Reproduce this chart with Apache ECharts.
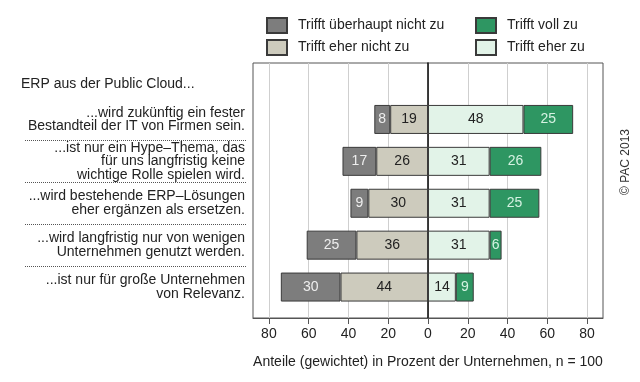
<!DOCTYPE html>
<html><head><meta charset="utf-8">
<script src="https://cdn.jsdelivr.net/npm/echarts@6/dist/echarts.min.js"></script>
<style>html,body{margin:0;padding:0;background:#fff}#c{width:640px;height:382px}</style>
</head><body><div id="c"></div>
<script>
const header = 'ERP aus der Public Cloud...';
const categories = [
  '...wird zukünftig ein fester\nBestandteil der IT von Firmen sein.',
  '...ist nur ein Hype\u2013Thema, das\nfür uns langfristig keine\nwichtige Rolle spielen wird.',
  '...wird bestehende ERP\u2013Lösungen\neher ergänzen als ersetzen.',
  '...wird langfristig nur von wenigen\nUnternehmen genutzt werden.',
  '...ist nur für große Unternehmen\nvon Relevanz.'
];
const nameUeberhauptNicht = 'Trifft überhaupt nicht zu';
const nameEherNicht = 'Trifft eher nicht zu';
const nameVoll = 'Trifft voll zu';
const nameEherZu = 'Trifft eher zu';
const ueberhauptNicht = [8, 17, 9, 25, 30];
const eherNicht = [19, 26, 30, 36, 44];
const eherZu = [48, 31, 31, 31, 14];
const vollZu = [25, 26, 25, 6, 9];
const xTicks = [-80, -60, -40, -20, 0, 20, 40, 60, 80];
const xTitle = 'Anteile (gewichtet) in Prozent der Unternehmen, n = 100';
const copyright = '\u00A9 PAC 2013';

const FONT = 'Liberation Sans, Arial, sans-serif';
const chart = echarts.init(document.getElementById('c'), null, {renderer: 'canvas'});

function barSeries(name, values, sign, color, labelColor) {
  return {
    name: name, type: 'bar', stack: 'total', xAxisIndex: 1, yAxisIndex: 1,
    barWidth: 29,
    data: values.map(v => sign * v),
    itemStyle: {color: color, borderColor: '#3a3a3a', borderWidth: 1},
    label: {
      show: true, position: 'inside', color: labelColor,
      fontFamily: FONT, fontSize: 14,
      formatter: p => Math.abs(p.value)
    },
    emphasis: {disabled: true}
  };
}

const legendCommon = {
  orient: 'vertical', itemWidth: 20, itemHeight: 15, itemGap: 5, icon: 'rect',
  padding: 0,
  textStyle: {fontFamily: FONT, fontSize: 14, color: '#222', padding: [0, 0, 0, 6]}
};

chart.setOption({
  animation: false,
  backgroundColor: '#fff',
  title: {
    text: header, left: 21, top: 77, padding: 0,
    textStyle: {fontFamily: FONT, fontSize: 14, fontWeight: 'normal', color: '#222'}
  },
  legend: [
    Object.assign({left: 266, top: 17, data: [nameUeberhauptNicht, nameEherNicht]}, legendCommon),
    Object.assign({left: 475, top: 17, data: [nameVoll, nameEherZu]}, legendCommon)
  ],
  grid: [
    {left: 253, top: 63, width: 350, height: 255, show: true, borderColor: '#555', borderWidth: 1, backgroundColor: 'transparent'},
    {left: 253, top: 98.5, width: 350, height: 209.5}
  ],
  xAxis: [
    {
      type: 'value', gridIndex: 0, min: -88, max: 88,
      axisLine: {show: true, onZero: false, lineStyle: {color: '#555'}},
      axisTick: {show: true, customValues: xTicks, length: 6, lineStyle: {color: '#555'}},
      axisLabel: {customValues: xTicks, formatter: v => Math.abs(v), fontFamily: FONT, fontSize: 14, color: '#222', margin: 9},
      splitLine: {show: true, lineStyle: {color: '#cfcfcf', width: 1}},
      name: xTitle, nameLocation: 'middle', nameGap: 37,
      nameTextStyle: {fontFamily: FONT, fontSize: 14, color: '#222'}
    },
    {
      type: 'value', gridIndex: 1, min: -88, max: 88, show: false,
      splitLine: {show: false}
    }
  ],
  yAxis: [
    {
      type: 'value', gridIndex: 0, min: 0, max: 1,
      axisLine: {show: true, onZero: true, lineStyle: {color: '#000', width: 1.5}},
      axisTick: {show: false}, axisLabel: {show: false}, splitLine: {show: false}
    },
    {
      type: 'category', gridIndex: 1, inverse: true, data: categories,
      axisLine: {show: false}, axisTick: {show: false}, splitLine: {show: false},
      axisLabel: {fontFamily: FONT, fontSize: 14, lineHeight: 13.3, color: '#222', margin: 8, align: 'right'}
    }
  ],
  series: [
    barSeries(nameEherNicht, eherNicht, -1, '#cdcbbd', '#222'),
    barSeries(nameUeberhauptNicht, ueberhauptNicht, -1, '#7d7d7d', '#eeeeee'),
    barSeries(nameEherZu, eherZu, 1, '#e2f3e8', '#222'),
    barSeries(nameVoll, vollZu, 1, '#2e9662', '#d5f2e2')
  ]
});

// separators between category labels + copyright
const graphics = [{
  type: 'text', x: 626, y: 162, rotation: Math.PI / 2,
  style: {text: copyright, fontFamily: FONT, fontSize: 12, fill: '#333', textAlign: 'center', textVerticalAlign: 'middle'}
}];
for (let i = 0; i < categories.length - 1; i++) {
  const a = chart.convertToPixel({yAxisIndex: 1}, i);
  const b = chart.convertToPixel({yAxisIndex: 1}, i + 1);
  const y = Math.round((a + b) / 2) + 0.5;
  graphics.push({
    type: 'line', shape: {x1: 25, y1: y, x2: 246, y2: y},
    style: {stroke: '#555', lineWidth: 1, lineDash: [1, 1]}
  });
}
chart.setOption({graphic: graphics});
</script>
</body></html>
